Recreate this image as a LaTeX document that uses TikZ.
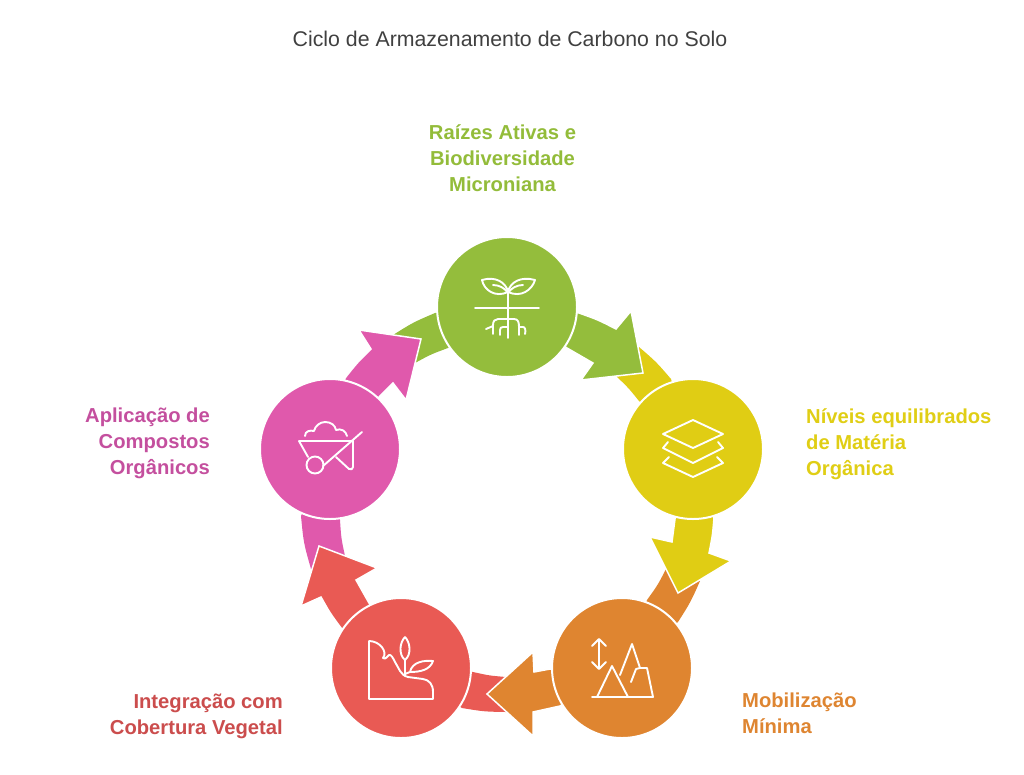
\documentclass[tikz,border=0pt]{standalone}
\usepackage{fontspec}
\setmainfont{Liberation Sans}
\definecolor{cgreen}{HTML}{94BD3C}
\definecolor{cyellow}{HTML}{E0CD14}
\definecolor{corange}{HTML}{DF8530}
\definecolor{cred}{HTML}{E95A54}
\definecolor{cpink}{HTML}{E059AC}
\definecolor{tgreen}{HTML}{93BC3A}
\definecolor{tyellow}{HTML}{E0CE15}
\definecolor{torange}{HTML}{DE8531}
\definecolor{tred}{HTML}{CB4D4D}
\definecolor{tpink}{HTML}{C44F9E}
\definecolor{ttitle}{HTML}{404040}
\tikzset{
  disc/.style={circle,minimum size=140pt,inner sep=0pt,draw=white,line width=2pt},
  headfill/.style={draw=white,line width=1.5pt,line join=miter},
  icon/.style={draw=white,line width=1.9pt,line cap=round,line join=round},
  lab/.style={font=\fontsize{20.2}{26}\selectfont\bfseries,inner sep=0pt}
}
\begin{document}
\begin{tikzpicture}[x=1pt,y=-1pt]
\useasboundingbox (0,0) rectangle (1024,774);
\coordinate (cg) at (507,307);
\coordinate (cy) at (693,449);
\coordinate (co) at (622,668);
\coordinate (cr) at (401,668);
\coordinate (cp) at (330,449);
% tails
\fill[cgreen] (393,335) .. controls (413.1,322.4) .. (435,313) -- (cg) -- (448,348) .. controls (430.9,354.3) .. (415,363) -- cycle;
\fill[cyellow] (639,347) .. controls (656.2,361.8) .. (671,379) -- (cy) -- (639,401) .. controls (628.3,387.7) .. (616,376) -- cycle;
\fill[corange] (700,581) .. controls (690.5,602.3) .. (678,622) -- (co) -- (647,600) .. controls (657.7,585.1) .. (666,569) -- cycle;
\fill[cred] (506,712) .. controls (483.8,711.6) .. (462,708) -- (cr) -- (473,672) .. controls (489.4,675.6) .. (506,677) -- cycle;
\fill[cpink] (311,569) .. controls (303.6,542.9) .. (301,516) -- (cp) -- (340,520) .. controls (341.2,538.3) .. (345,556) -- cycle;
% arrows
\filldraw[cgreen,headfill] (cg) -- (579,313) .. controls (598.1,319.8) .. (616,329) -- (631,311) -- (643,373) -- (581,380) -- (593,363) .. controls (580.4,354.7) .. (567,348) -- cycle;
\filldraw[cyellow,headfill] (cy) -- (714,518) .. controls (712.5,535.7) .. (709,553) -- (731,561) -- (678,593) -- (650,537) -- (672,542) .. controls (674,530.6) .. (675,519) -- cycle;
\filldraw[corange,headfill] (co) -- (560,706) .. controls (546.6,709.6) .. (533,712) -- (533,736) -- (487,694) -- (533,652) -- (534,672) .. controls (542.1,670.8) .. (550,669) -- cycle;
\filldraw[cred,headfill] (cr) -- (341,628) .. controls (330,613.1) .. (321,597) -- (301,606) -- (319,546) -- (377,568) -- (356,580) .. controls (361.9,591.9) .. (369,603) -- cycle;
\filldraw[cpink,headfill] (cp) -- (345,378) .. controls (357.1,362.7) .. (371,349) -- (359,330) -- (421,339) -- (406,400) -- (393,383) .. controls (386.3,389.3) .. (380,396) -- cycle;
% discs
\node[disc,fill=cgreen] (ng) at (cg) {};
\node[disc,fill=cyellow] (ny) at (cy) {};
\node[disc,fill=corange] (no) at (co) {};
\node[disc,fill=cred] (nr) at (cr) {};
\node[disc,fill=cpink] (np) at (cp) {};
% icon: seedling
\draw[icon] (475,308) -- (539,308) (508,291) -- (508,338);
\draw[icon] (508,292) .. controls (506,282) and (495,276) .. (482,280) .. controls (484,290) and (495,298) .. (508,292);
\draw[icon] (493,285) .. controls (499,285) and (505,288) .. (508,293);
\draw[icon] (508,292) .. controls (510,282) and (521,276) .. (535,280) .. controls (532,290) and (521,298) .. (508,292);
\draw[icon] (523,285) .. controls (517,285) and (511,288) .. (508,293);
\draw[icon] (486,329) -- (493,326) (493,334) -- (493,325) .. controls (493,321) and (495,319) .. (498,319) -- (514,319) .. controls (518,319) and (519,322) .. (519,327) -- (519,335);
\draw[icon] (519,327) -- (523,327) .. controls (525,327) and (526,330) .. (525,334);
\draw[icon] (500,335) -- (500,330) .. controls (500,328) and (501,327) .. (503,327) -- (508,327);
% icon: layers
\draw[icon] (663,434) -- (693,420) -- (723,434) -- (693,448) -- cycle;
\draw[icon] (668,442) -- (663,448) -- (693,463) -- (723,448) -- (718,442);
\draw[icon] (669,457) -- (663,463) -- (693,477) -- (723,463) -- (717,457);
% icon: mountains
\draw[icon] (599,640) -- (599,668) (592,646) -- (599,639) -- (606,646) (592,662) -- (599,669) -- (606,662);
\draw[icon] (592,697) -- (653,697) (597,697) -- (612,666) -- (628,697);
\draw[icon] (620,675) -- (632,644) -- (640,668) -- (647,668) -- (653,697);
\draw[icon] (631,682) -- (636,669) -- (640,668);
% icon: slope with plant
\draw[icon] (369,641) -- (369,699) -- (433,699) -- (433,692) .. controls (433,684) and (429,680) .. (423,679) -- (408,677) .. controls (400,675) and (399,668) .. (395,662) .. controls (393,658) and (391,654) .. (389,655) .. controls (387,656) and (386,660) .. (383,658) .. controls (388,652) and (380,641) .. (369,641);
\draw[icon] (405,676) -- (405,660) (405,637) .. controls (400,642) and (398,654) .. (405,660) .. controls (412,654) and (410,642) .. (405,637);
\draw[icon] (405,674) -- (410,672) .. controls (412,662) and (424,660) .. (433,661) .. controls (430,670) and (420,672) .. (410,672);
% icon: wheelbarrow
\draw[icon] (299,441) -- (353,441) (299,441) -- (308,457) (362,432) -- (323,466);
\draw[icon] (315,465) circle[radius=8.5];
\draw[icon] (336,457) -- (349,469) .. controls (351,470) and (353,469) .. (353,467) -- (353,441);
\draw[icon] (305,436) .. controls (305,431) and (310,430) .. (314,431) .. controls (315,426) and (320,422) .. (325,422) .. controls (331,422) and (335,425) .. (336,430) .. controls (341,428) and (346,431) .. (347,436);
% texts
\node[font=\fontsize{21.3}{26}\selectfont,text=ttitle,inner sep=0pt] (ttl) at (510,39) {Ciclo de Armazenamento de Carbono no Solo};
\node[lab,text=tgreen,align=center] (lg) at (502.5,157.7) {Raízes Ativas e\\Biodiversidade\\Microniana};
\node[lab,text=tyellow,align=left,anchor=west] (ly) at (806,444.7) {Níveis equilibrados\\de Matéria\\Orgânica};
\node[lab,text=torange,align=left,anchor=west] (lo) at (742,713.7) {Mobilização\\Mínima};
\node[lab,text=tred,align=right,anchor=east] (lr) at (283,716.7) {Integração com\\Cobertura Vegetal};
\node[lab,text=tpink,align=right,anchor=east] (lp) at (210,443) {Aplicação de\\Compostos\\Orgânicos};
\end{tikzpicture}
\end{document}
